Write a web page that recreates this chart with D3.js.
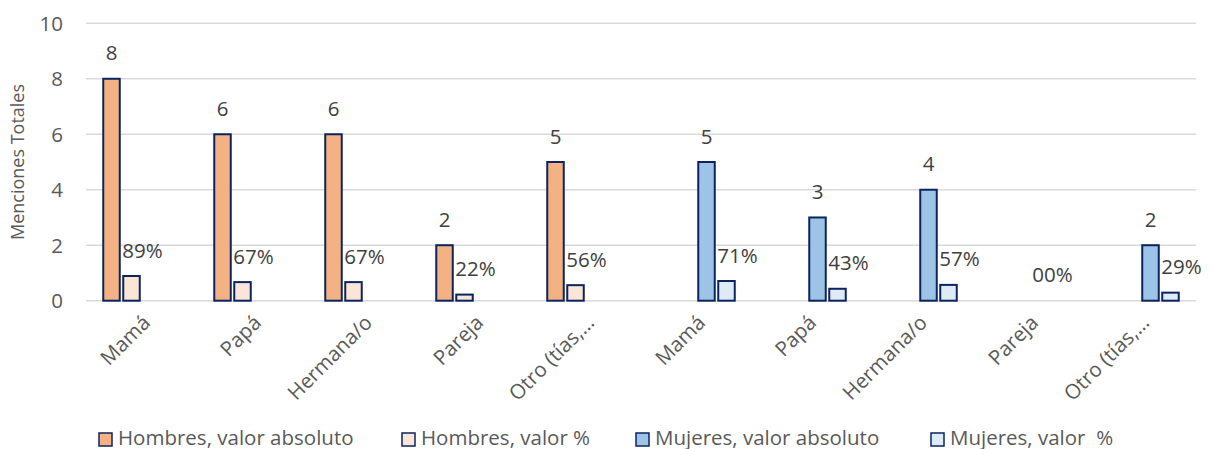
<!DOCTYPE html>
<html>
<head>
<meta charset="utf-8">
<script src="https://cdn.jsdelivr.net/npm/d3@7/dist/d3.min.js"></script>
<style>
  html, body { margin: 0; padding: 0; background: #fff; }
  svg { display: block; font-family: "Open Sans", sans-serif; }
</style>
</head>
<body>
<svg id="chart" width="1212" height="449"></svg>
<script>
// ---- data ----
const categories = ["Mamá", "Papá", "Hermana/o", "Pareja", "Otro (tías,…",
                    "Mamá", "Papá", "Hermana/o", "Pareja", "Otro (tías,…"];
const hombresAbs = [8, 6, 6, 2, 5, null, null, null, null, null];
const hombresPct = [0.89, 0.67, 0.67, 0.22, 0.56, null, null, null, null, null];
const mujeresAbs = [null, null, null, null, null, 5, 3, 4, 0, 2];
const mujeresPct = [null, null, null, null, null, 0.71, 0.43, 0.57, 0, 0.29];
const seriesNames = ["Hombres, valor absoluto", "Hombres, valor %", "Mujeres, valor absoluto", "Mujeres, valor  %"];
const yTicks = [0, 2, 4, 6, 8, 10];
const yTitle = "Menciones Totales";

// ---- styles ----
const fills = ["#F4B183", "#FBE5D6", "#9DC3E6", "#DEEBF7"];
const strokeCol = "#0B2460";
const FS = 20.5;

const series = [
  { key: "ha", name: seriesNames[0], values: hombresAbs, pct: false, fill: fills[0] },
  { key: "hp", name: seriesNames[1], values: hombresPct, pct: true,  fill: fills[1] },
  { key: "ma", name: seriesNames[2], values: mujeresAbs, pct: false, fill: fills[2] },
  { key: "mp", name: seriesNames[3], values: mujeresPct, pct: true,  fill: fills[3] }
];

const svg = d3.select("#chart");
const pLeft = 86, pRight = 1196, pTop = 23.3, pBottom = 300.7;

const x0 = d3.scaleBand().domain(d3.range(categories.length)).range([pLeft, pRight]).paddingInner(0).paddingOuter(0);
const bw = x0.bandwidth();
const x1 = d3.scaleBand().domain(series.map(s => s.key))
  .range([bw / 2 - 40, bw / 2 + 40]).paddingInner(0.175).paddingOuter(0.0875);
const y = d3.scaleLinear().domain([0, 10]).range([pBottom, pTop]);

// gridlines
const grid = svg.append("g");
grid.selectAll("line").data(yTicks).join("line")
  .attr("x1", pLeft).attr("x2", pRight)
  .attr("y1", d => y(d)).attr("y2", d => y(d))
  .attr("stroke", "#D9D9D9").attr("stroke-width", 1.5);

// y axis labels
const yAxis = d3.axisLeft(y).tickValues(yTicks).tickSize(0).tickPadding(0).tickFormat(d3.format("d"));
const yG = svg.append("g").attr("transform", `translate(${63},0)`).call(yAxis);
yG.select(".domain").remove();
yG.selectAll("text").attr("font-family", "Open Sans, sans-serif").attr("font-size", FS).attr("fill", "#595959").attr("dy", "0.35em");

// y title
svg.append("text")
  .attr("transform", `translate(24,${(pTop + pBottom) / 2}) rotate(-90)`)
  .attr("text-anchor", "middle")
  .attr("font-size", 18).attr("fill", "#595959")
  .text(yTitle);

// bars
const barsG = svg.append("g");
series.forEach(s => {
  const pts = s.values.map((v, i) => ({ i, v })).filter(d => d.v !== null && d.v > 0);
  barsG.append("g").selectAll("rect").data(pts).join("rect")
    .attr("x", d => x0(d.i) + x1(s.key))
    .attr("y", d => y(d.v))
    .attr("width", x1.bandwidth())
    .attr("height", d => y(0) - y(d.v))
    .attr("fill", s.fill)
    .attr("stroke", strokeCol).attr("stroke-width", 2);
});

// data labels
const pctFmt = d3.format("03.0%");
const labG = svg.append("g").attr("font-size", FS).attr("fill", "#404040");
series.forEach((s, si) => {
  const pts = s.values.map((v, i) => ({ i, v })).filter(d => d.v !== null && (s.pct || d.v > 0));
  labG.append("g").selectAll("text").data(pts).join("text")
    .attr("x", d => {
      if (!s.pct) return x0(d.i) + x1(s.key) + x1.bandwidth() / 2;
      if (d.v === 0) return x0(d.i) + x1(series[si - 1].key) + 1;
      return x0(d.i) + x1(s.key) - 1;
    })
    .attr("y", d => y(d.v) - 18.5)
    .attr("text-anchor", s.pct ? "start" : "middle")
    .text(d => s.pct ? pctFmt(d.v) : d.v);
});

// x axis labels
const xLab = svg.append("g");
xLab.selectAll("text").data(categories.map((c, i) => ({ c, i }))).join("text")
  .attr("transform", d => `translate(${x0(d.i) + bw / 2 + 10},${324}) rotate(-45)`)
  .attr("text-anchor", "end")
  .attr("font-size", FS).attr("fill", "#595959")
  .text(d => d.c);

// legend
const legendX = [99, 402, 636, 931];
const lg = svg.append("g");
series.forEach((s, k) => {
  const g = lg.append("g").attr("transform", `translate(${legendX[k]},433)`);
  g.append("rect").attr("x", 0).attr("y", 0).attr("width", 13).attr("height", 13)
    .attr("fill", s.fill).attr("stroke", strokeCol).attr("stroke-width", 1.5);
  g.append("text").attr("x", 19).attr("y", 11.5)
    .attr("font-size", FS).attr("fill", "#595959")
    .style("white-space", "pre").attr("xml:space", "preserve")
    .text(s.name);
});
</script>
</body>
</html>
